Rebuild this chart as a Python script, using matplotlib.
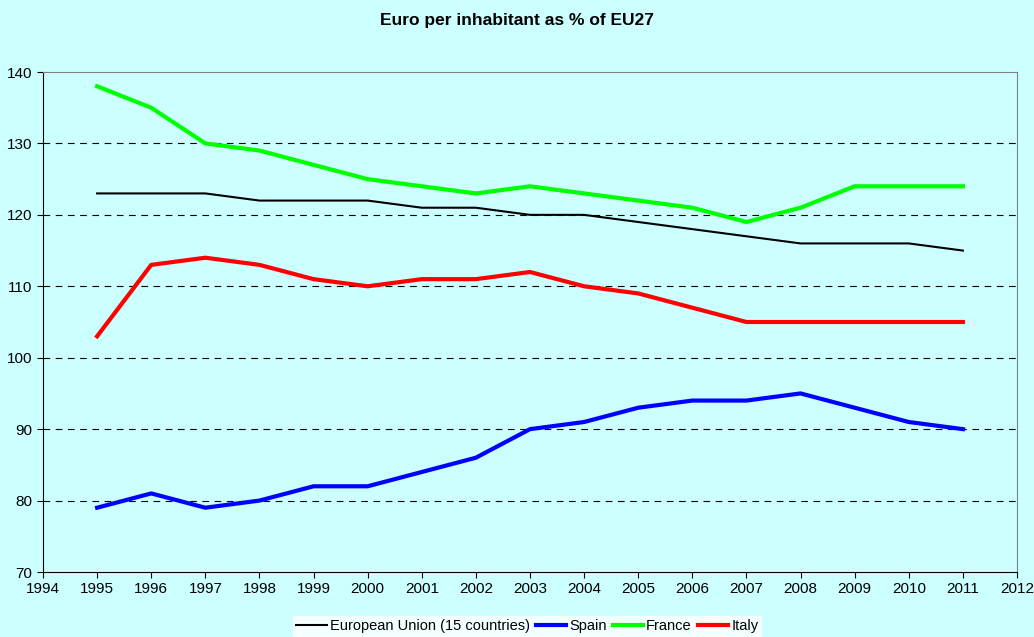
import matplotlib.pyplot as plt

plt.rcParams['font.family'] = ['Liberation Sans', 'DejaVu Sans']

anios = list(range(1995, 2012))
ue15 = [123, 123, 123, 122, 122, 122, 121, 121, 120, 120, 119, 118, 117, 116, 116, 116, 115]
espana = [79, 81, 79, 80, 82, 82, 84, 86, 90, 91, 93, 94, 94, 95, 93, 91, 90]
francia = [138, 135, 130, 129, 127, 125, 124, 123, 124, 123, 122, 121, 119, 121, 124, 124, 124]
italia = [103, 113, 114, 113, 111, 110, 111, 111, 112, 110, 109, 107, 105, 105, 105, 105, 105]

fondo = '#CCFFFF'
fig = plt.figure(figsize=(10.34, 6.37), dpi=100, facecolor=fondo)
ax = fig.add_axes([43 / 1034, 1 - 572 / 637, (1017 - 43) / 1034, 500 / 637])
ax.set_facecolor(fondo)

ax.plot(anios, ue15, color='black', linewidth=1.5, label='European Union (15 countries)')
ax.plot(anios, espana, color='#0000FF', linewidth=3, label='Spain')
ax.plot(anios, francia, color='#00FF00', linewidth=3, label='France')
ax.plot(anios, italia, color='#FF0000', linewidth=3, label='Italy')

ax.set_xlim(1994, 2012)
ax.set_ylim(70, 140)
ax.set_xticks(range(1994, 2013))
ax.set_yticks(range(70, 141, 10))
ax.tick_params(labelsize=11, direction='out', length=4)

# cuadricula discontinua
for y in range(80, 140, 10):
    ax.axhline(y, color='black', linestyle=(0, (6, 5)), linewidth=0.8, zorder=0)

ax.spines['top'].set_color('#808080')
ax.spines['right'].set_color('#808080')

fig.text(0.5, 1 - 20 / 637, 'Euro per inhabitant as % of EU27', fontsize=12.5,
         fontweight='bold', ha='center', va='center')

leg = fig.legend(loc='lower center', bbox_to_anchor=(0.51, -0.01), ncol=4, fontsize=10.5,
                 frameon=True, fancybox=False, handlelength=2.1, handletextpad=0.2,
                 columnspacing=0.4, borderpad=0.2)
leg.get_frame().set_facecolor('white')
leg.get_frame().set_edgecolor('white')

fig.savefig('out.png', dpi=100, facecolor=fondo)
